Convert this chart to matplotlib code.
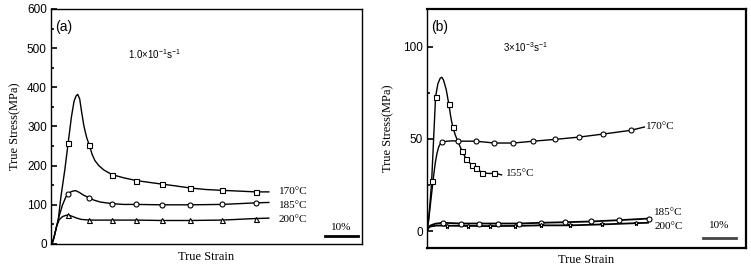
import matplotlib
matplotlib.use("Agg")
import matplotlib.pyplot as plt
from matplotlib.ticker import MultipleLocator, NullLocator

# ---------------- Panel (a) data: strain rate 1.0e-1 s^-1 ----------------
a170_x = [0, 0.005, 0.01, 0.017, 0.022, 0.03, 0.042, 0.052, 0.062, 0.07, 0.076, 0.081, 0.087,
          0.093, 0.1, 0.108, 0.116, 0.125, 0.133, 0.145, 0.16, 0.185, 0.22, 0.258, 0.3,
          0.335, 0.38, 0.421, 0.47, 0.517, 0.57, 0.62, 0.66]
a170_y = [0, 5, 20, 45, 62, 120, 190, 258, 325, 365, 378, 382, 370,
          336, 300, 272, 252, 228, 213, 200, 189, 177, 169, 162, 157,
          153, 148, 143, 139, 137, 135, 133, 133]
a185_x = [0, 0.005, 0.01, 0.017, 0.025, 0.035, 0.045, 0.052, 0.06, 0.068, 0.075, 0.085, 0.1,
          0.116, 0.13, 0.15, 0.185, 0.22, 0.258, 0.335, 0.421, 0.517, 0.57, 0.62, 0.66]
a185_y = [0, 5, 20, 45, 72, 100, 120, 128, 133, 135.5, 136, 132, 124,
          118, 112, 107, 103, 101, 101, 100, 100, 101, 103, 105, 106]
a200_x = [0, 0.005, 0.01, 0.017, 0.025, 0.035, 0.045, 0.052, 0.06, 0.075, 0.09, 0.116,
          0.185, 0.258, 0.335, 0.421, 0.517, 0.57, 0.62, 0.66]
a200_y = [0, 5, 20, 45, 62, 70, 73, 74, 72, 67, 63, 61,
          61, 61, 60, 60, 61, 63, 65, 66]

a_mark_x = [0.052, 0.116, 0.185, 0.258, 0.335, 0.421, 0.517, 0.62]
a170_m = [258, 252, 177, 162, 153, 143, 137, 133]
a185_m = [128, 118, 103, 101, 100, 100, 101, 105]
a200_m = [74, 61, 61, 61, 60, 60, 61, 65]

# ---------------- Panel (b) data: strain rate 3e-3 s^-1 ----------------
b155_x = [0, 0.004, 0.009, 0.014, 0.02, 0.026, 0.033, 0.04, 0.045, 0.05, 0.058, 0.066, 0.072,
          0.078, 0.086, 0.095, 0.106, 0.119, 0.135, 0.15, 0.167, 0.185, 0.203, 0.215, 0.226]
b155_y = [0, 5, 15, 27, 50, 73, 80, 83, 83.5, 82, 77, 69, 62,
          56.5, 52, 48, 43.5, 39, 36, 34, 31.7, 31.3, 31.3, 31, 30.5]
b155_mx = [0.014, 0.026, 0.066, 0.078, 0.106, 0.119, 0.135, 0.15, 0.167, 0.203]
b155_my = [27, 73, 69, 56.5, 43.5, 39, 36, 34, 31.7, 31.3]

b170_x = [0, 0.005, 0.01, 0.015, 0.02, 0.025, 0.03, 0.035, 0.04, 0.046, 0.06, 0.08, 0.095,
          0.148, 0.204, 0.262, 0.322, 0.389, 0.46, 0.535, 0.618, 0.659]
b170_y = [0, 6, 14, 22, 30, 37, 42, 45.5, 47.3, 48.2, 48.8, 49, 48.8,
          48.8, 47.8, 47.8, 48.8, 49.8, 51, 52.7, 54.7, 56.5]
b170_mx = [0.046, 0.095, 0.148, 0.204, 0.262, 0.322, 0.389, 0.46, 0.535, 0.618]
b170_my = [48.2, 48.8, 48.8, 47.8, 47.8, 48.8, 49.8, 51, 52.7, 54.7]

b185_x = [0, 0.003, 0.01, 0.025, 0.049, 0.103, 0.158, 0.216, 0.28, 0.345, 0.419, 0.496, 0.581, 0.673]
b185_y = [0, 1.5, 3, 4, 4.5, 4.1, 4.1, 4.1, 4.1, 4.5, 4.8, 5.2, 5.9, 6.8]
b185_mx = [0.049, 0.103, 0.158, 0.216, 0.28, 0.345, 0.419, 0.496, 0.581, 0.673]
b185_my = [4.5, 4.1, 4.1, 4.1, 4.1, 4.5, 4.8, 5.2, 5.9, 6.8]

b200_x = [0, 0.003, 0.01, 0.03, 0.06, 0.125, 0.19, 0.267, 0.345, 0.434, 0.529, 0.635, 0.67]
b200_y = [0, 1.5, 2.5, 3, 2.9, 2.8, 2.7, 2.8, 3.1, 3.1, 3.6, 4.3, 4.5]
b200_mx = [0.06, 0.125, 0.19, 0.267, 0.345, 0.434, 0.529, 0.635]
b200_my = [2.9, 2.8, 2.7, 2.8, 3.1, 3.1, 3.6, 4.3]

SANS = "Liberation Sans"
SERIF = "Liberation Serif"

fig = plt.figure(figsize=(7.51, 2.68), dpi=100)
axa = fig.add_axes([0.0679, 0.0896, 0.414, 0.877])
axb = fig.add_axes([0.5686, 0.0746, 0.4247, 0.892])

mk = dict(markerfacecolor="white", markeredgecolor="black", markeredgewidth=0.8,
          linestyle="none", markersize=3.6)
lk = dict(color="black", linewidth=1.0)

# Panel (a)
axa.plot(a170_x, a170_y, **lk)
axa.plot(a185_x, a185_y, **lk)
axa.plot(a200_x, a200_y, **lk)
axa.plot(a_mark_x, a170_m, marker="s", **mk)
axa.plot(a_mark_x, a185_m, marker="o", **mk)
axa.plot(a_mark_x, a200_m, marker="^", **mk)
axa.set_xlim(0, 0.942)
axa.set_ylim(0, 600)
axa.yaxis.set_major_locator(MultipleLocator(100))
axa.yaxis.set_minor_locator(MultipleLocator(50))
axa.xaxis.set_major_locator(NullLocator())
axa.tick_params(axis="y", which="major", direction="in", length=4, width=1.2, labelsize=8.5, pad=3)
axa.tick_params(axis="y", which="minor", direction="in", length=2.5, width=1.2)
for lab in axa.get_yticklabels():
    lab.set_fontfamily(SANS)
axa.set_xlabel("True Strain", fontfamily=SERIF, fontsize=9, labelpad=5)
axa.set_ylabel("True Stress(MPa)", fontfamily=SERIF, fontsize=9, labelpad=4)
axa.text(0.013, 0.955, "(a)", transform=axa.transAxes, fontfamily=SANS, fontsize=10, va="top")
axa.text(0.248, 0.81, r"1.0×10$^{\mathregular{-1}}$s$^{\mathregular{-1}}$", transform=axa.transAxes,
         fontfamily=SANS, fontsize=7, va="center")
axa.text(0.69, 135, "170°C", fontfamily=SERIF, fontsize=8, va="center")
axa.text(0.69, 98, "185°C", fontfamily=SERIF, fontsize=8, va="center")
axa.text(0.69, 62, "200°C", fontfamily=SERIF, fontsize=8, va="center")
axa.plot([0.83, 0.93], [20, 20], color="black", linewidth=2)
axa.text(0.88, 30, "10%", fontfamily=SERIF, fontsize=8, ha="center", va="bottom")
for s in axa.spines.values():
    s.set_linewidth(1.0)

# Panel (b)
axb.plot(b155_x, b155_y, **lk)
axb.plot(b170_x, b170_y, **lk)
axb.plot(b185_x, b185_y, color="black", linewidth=1.3)
axb.plot(b200_x, b200_y, color="black", linewidth=1.3)
axb.plot(b155_mx, b155_my, marker="s", **mk)
axb.plot(b170_mx, b170_my, marker="o", **mk)
axb.plot(b185_mx, b185_my, marker="o", **mk)
axb.plot(b200_mx, b200_my, marker="*", **mk)
axb.set_xlim(0, 0.967)
axb.set_ylim(-9.2, 120.6)
axb.yaxis.set_major_locator(MultipleLocator(50))
axb.yaxis.set_minor_locator(MultipleLocator(25))
axb.xaxis.set_major_locator(NullLocator())
axb.tick_params(axis="y", which="major", direction="in", length=4, width=1.2, labelsize=8.5, pad=3)
axb.tick_params(axis="y", which="minor", direction="in", length=2.5, width=1.2)
for lab in axb.get_yticklabels():
    lab.set_fontfamily(SANS)
axb.set_xlabel("True Strain", fontfamily=SERIF, fontsize=9, labelpad=4)
axb.set_ylabel("True Stress(MPa)", fontfamily=SERIF, fontsize=9, labelpad=6)
axb.text(0.013, 0.955, "(b)", transform=axb.transAxes, fontfamily=SANS, fontsize=10, va="top")
axb.text(0.238, 0.84, r"3×10$^{\mathregular{-3}}$s$^{\mathregular{-1}}$", transform=axb.transAxes,
         fontfamily=SANS, fontsize=7, va="center")
axb.text(0.665, 57, "170°C", fontfamily=SERIF, fontsize=8, va="center")
axb.text(0.24, 31, "155°C", fontfamily=SERIF, fontsize=8, va="center")
axb.text(0.688, 10, "185°C", fontfamily=SERIF, fontsize=8, va="center")
axb.text(0.69, 2.3, "200°C", fontfamily=SERIF, fontsize=8, va="center")
axb.plot([0.836, 0.937], [-3.9, -3.9], color="#444444", linewidth=2)
axb.text(0.886, 0.5, "10%", fontfamily=SERIF, fontsize=8, ha="center", va="bottom")
for s in axb.spines.values():
    s.set_linewidth(1.6)
axb.spines["left"].set_linewidth(1.0)

fig.savefig("out.png", dpi=100)
